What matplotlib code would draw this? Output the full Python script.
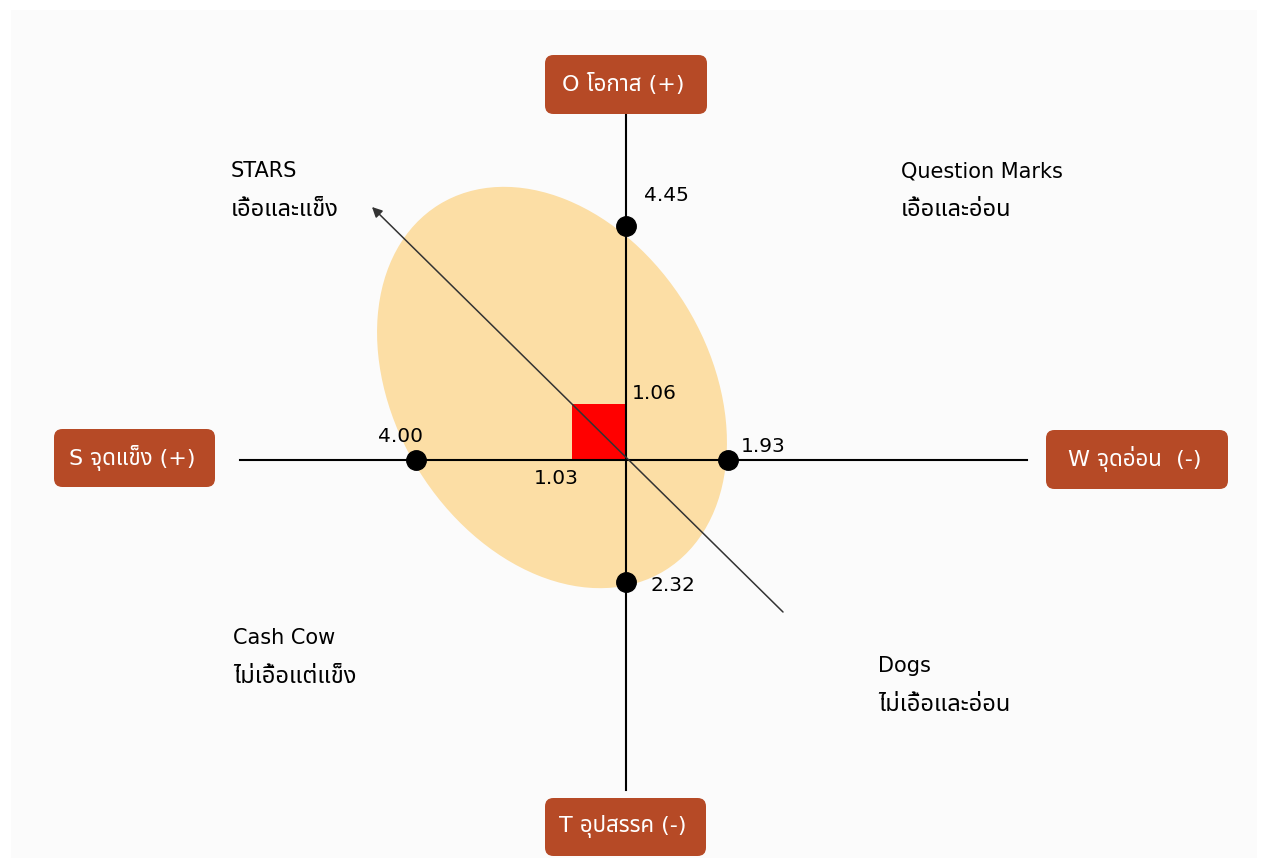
import matplotlib
matplotlib.use('Agg')
import matplotlib.pyplot as plt
from matplotlib.patches import Ellipse, Rectangle, FancyBboxPatch

# DejaVu for latin / digits, Thai glyphs fall through to Noto Sans Thai
plt.rcParams['font.family'] = ['DejaVu Sans', 'Noto Sans Thai', 'Noto Sans']
THAI = ['Noto Sans Thai', 'DejaVu Sans']

# ---- data ----
axis_labels = ['S จุดแข็ง (+)', 'W จุดอ่อน  (-)', 'O โอกาส (+)', 'T อุปสรรค (-)']
scores = [4.00, 1.93, 4.45, 2.32]          # S, W, O, T
net_x = 1.03                               # S - W (drawn towards S)
net_y = 1.06                               # O - T
quadrants = ['STARS', 'Question Marks', 'Cash Cow', 'Dogs']
quadrant_th = ['เอื้อและแข็ง', 'เอื้อและอ่อน', 'ไม่เอื้อแต่แข็ง', 'ไม่เอื้อและอ่อน']

# ---- layout (1 data unit ~ 52.6 px, origin at pixel 626,460) ----
S = 52.6
def px(x, y):
    return (x - 626) / S, (460 - y) / S

box_col = '#b64a26'
fill_col = '#fcdea5'

fig = plt.figure(figsize=(12.64, 8.61), dpi=100)
fig.patch.set_facecolor('white')
ax = fig.add_axes([0, 0, 1, 1])
x0, y1 = px(0, 0)
x1, y0 = px(1264, 861)
ax.set_xlim(x0, x1)
ax.set_ylim(y0, y1)
ax.set_aspect('equal')
ax.axis('off')

# light panel behind everything
pl, pt = px(11, 10)
pr, pb = px(1257, 858)
ax.add_patch(Rectangle((pl, pb), pr - pl, pt - pb, fc='#fbfbfb', ec='none', zorder=0))

# shaded ellipse
ax.add_patch(Ellipse(px(552, 387.5), 430 / S, 314 / S, angle=-58.3,
                     fc=fill_col, ec='none', zorder=1))

# diagonal arrow
ax.annotate('', xy=px(372, 207), xytext=px(783, 612),
            arrowprops=dict(arrowstyle='-|>', color='#333333', lw=1.1,
                            mutation_scale=15, shrinkA=0, shrinkB=0), zorder=4)

# net position square
ax.add_patch(Rectangle((-net_x, 0), net_x, net_y, fc='#ff0000', ec='none', zorder=2))

# axis lines
ax.plot([px(240, 0)[0], px(1027, 0)[0]], [0, 0], color='black', lw=1.5, zorder=3)
ax.plot([0, 0], [px(0, 790)[1], px(0, 115)[1]], color='black', lw=1.5, zorder=3)

# score points
s_val, w_val, o_val, t_val = scores
pts_x = [-s_val, w_val, 0, 0]
pts_y = [0, 0, o_val, -t_val]
ax.plot(pts_x, pts_y, 'o', color='black', ms=14, zorder=5)

lab_kw = dict(textcoords='offset pixels', ha='center', va='center', fontsize=14.5, zorder=6)
offsets = [(-15, 23), (36, 14), (40, 30), (47, -3)]
for xv, yv, v, off in zip(pts_x, pts_y, scores, offsets):
    ax.annotate(f'{v:.2f}', xy=(xv, yv), xytext=off, **lab_kw)
ax.annotate(f'{net_y:.2f}', xy=(0, net_y), xytext=(28, 11), **lab_kw)
ax.annotate(f'{net_x:.2f}', xy=(-net_x, 0), xytext=(-16, -19), **lab_kw)

# axis name boxes (left, top, right, bottom in px)
boxes = [(54, 429, 215, 487), (1046, 430, 1228, 489), (545, 55, 707, 114), (545, 798, 706, 856)]
for name, (l, t, r, b) in zip(axis_labels, boxes):
    xl, yt = px(l, t)
    xr, yb = px(r, b)
    ax.add_patch(FancyBboxPatch((xl, yb), xr - xl, yt - yb,
                                boxstyle='round,pad=0,rounding_size=0.16',
                                fc=box_col, ec='none', zorder=6))
    ax.text((xl + xr) / 2 - 0.05, (yt + yb) / 2, name, color='white', fontsize=16,
            ha='center', va='center', zorder=7)

# quadrant captions (left x, baseline of first line, baseline of second line)
cap_pos = [(231, 177, 216), (901, 177, 216), (233, 644, 683), (878, 672, 711)]
for en, th, (x, b1, b2) in zip(quadrants, quadrant_th, cap_pos):
    ax.text(*px(x, b1), en, fontsize=15, ha='left', va='baseline', zorder=6)
    ax.text(*px(x, b2), th, fontsize=17, family=THAI, ha='left', va='baseline', zorder=6)

fig.savefig('out.png', dpi=100)
